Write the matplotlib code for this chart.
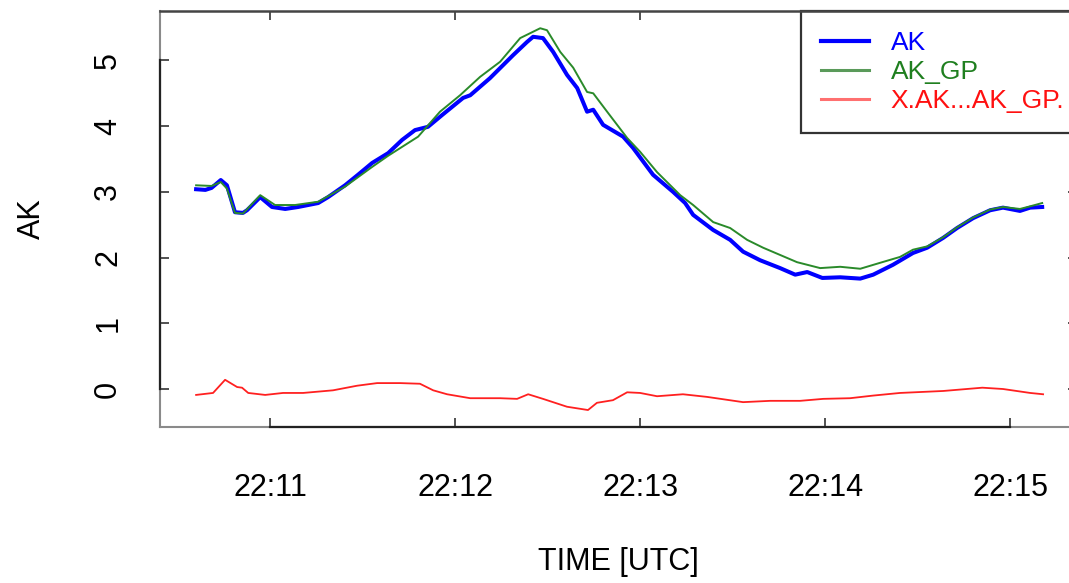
import matplotlib
matplotlib.use("Agg")
import matplotlib.pyplot as plt
from matplotlib.ticker import FuncFormatter

# time in seconds after 22:10:00 UTC
ak_t = [636, 639, 641, 644, 646, 648.6, 651.2, 652.5, 656.8, 660.6, 664.9, 669.1,
        675.6, 678.8, 684.3, 688.5, 693.1, 698.3, 702.8, 707.0, 711.2, 715.8,
        722.6, 724.9, 731.3, 738.8, 743.3, 745.3, 748.5, 751.8, 756.3, 759.6,
        762.8, 764.8, 768.0, 774.5, 777.7, 784.2, 790.7, 794.6, 797.2, 803.7,
        809.2, 813.4, 818.9, 825.4, 830.3, 834.2, 839.1, 844.9, 851.4, 855.6,
        862.0, 868.5, 873.1, 878.3, 882.8, 888.0, 893.5, 897.7, 903.2, 906.5, 910.4]
ak_v = [3.04, 3.03, 3.06, 3.18, 3.10, 2.69, 2.68, 2.72, 2.92, 2.77, 2.74, 2.77,
        2.83, 2.92, 3.10, 3.26, 3.44, 3.59, 3.79, 3.94, 3.99, 4.17,
        4.43, 4.47, 4.73, 5.08, 5.28, 5.36, 5.34, 5.13, 4.78, 4.58,
        4.22, 4.25, 4.02, 3.84, 3.67, 3.26, 3.00, 2.83, 2.65, 2.42,
        2.27, 2.09, 1.96, 1.84, 1.74, 1.78, 1.69, 1.70, 1.68, 1.74,
        1.89, 2.07, 2.15, 2.30, 2.45, 2.60, 2.72, 2.76, 2.71, 2.76, 2.77]

gp_t = [636, 641, 644, 646, 648.6, 651.2, 656.8, 661.6, 668.1, 675.6, 684.3,
        693.1, 698.3, 708.0, 715.1, 721.6, 728.1, 734.6, 741.1, 747.6, 749.8,
        754.1, 758.3, 762.8, 764.8, 769.3, 775.8, 780.0, 785.5, 793.0, 797.2,
        803.7, 809.2, 814.7, 819.9, 825.4, 830.9, 838.4, 844.9, 851.4, 857.8,
        864.3, 868.5, 873.1, 878.3, 882.8, 888.0, 893.5, 897.7, 903.2, 906.5, 910.4]
gp_v = [3.10, 3.09, 3.15, 3.05, 2.68, 2.67, 2.95, 2.80, 2.80, 2.85, 3.08,
        3.38, 3.55, 3.84, 4.22, 4.47, 4.75, 4.98, 5.34, 5.49, 5.46,
        5.13, 4.89, 4.52, 4.50, 4.22, 3.82, 3.61, 3.30, 2.95, 2.80,
        2.54, 2.45, 2.27, 2.15, 2.04, 1.93, 1.84, 1.86, 1.83, 1.92,
        2.01, 2.12, 2.17, 2.31, 2.46, 2.61, 2.73, 2.77, 2.74, 2.78, 2.83]

diff_t = [636, 641.5, 645.4, 649.3, 650.9, 652.9, 658.4, 664.2, 670.7, 680.4,
          688.2, 694.7, 702.2, 708.6, 712.9, 717.4, 724.9, 734.6, 740.1, 743.7,
          748.5, 756.3, 763.1, 766.0, 771.2, 775.8, 780.0, 785.5, 793.9, 801.7,
          813.4, 822.2, 831.9, 839.4, 848.1, 855.6, 864.3, 878.3, 891.0, 897.7,
          906.5, 910.7]
diff_v = [-0.09, -0.06, 0.14, 0.03, 0.02, -0.06, -0.09, -0.06, -0.06, -0.02,
          0.05, 0.09, 0.09, 0.08, -0.02, -0.08, -0.14, -0.14, -0.15, -0.08,
          -0.15, -0.27, -0.32, -0.21, -0.17, -0.05, -0.06, -0.11, -0.08, -0.12,
          -0.20, -0.18, -0.18, -0.15, -0.14, -0.10, -0.06, -0.03, 0.02, 0.00,
          -0.06, -0.08]

x_ticks = [660, 720, 780, 840, 900]
y_ticks = [0, 1, 2, 3, 4, 5]

plt.rcParams["font.family"] = ["Liberation Sans", "DejaVu Sans"]

fig = plt.figure(figsize=(10.69, 5.83), dpi=100)
ax = fig.add_axes([0.1497, 0.2676, 0.8578, 0.7136])

ax.plot(ak_t, ak_v, color="#0000ff", lw=2.9, label="AK", zorder=3)
ax.plot(gp_t, gp_v, color="#2a8a2a", lw=1.4, label="AK_GP", zorder=4)
ax.plot(diff_t, diff_v, color="#ff2020", lw=1.3, label="X.AK...AK_GP.", zorder=3)

ax.set_xlim(624.3, 921.7)
ax.set_ylim(-0.578, 5.753)

ax.set_xticks(x_ticks)
ax.xaxis.set_major_formatter(FuncFormatter(lambda s, p: "22:%02d" % (int(s) // 60)))
ax.set_yticks(y_ticks)
ax.set_yticklabels([str(v) for v in y_ticks], rotation=90, va="center")

ax.tick_params(direction="in", length=6.5, width=1.1, color="#222222",
               top=True, right=True, labelsize=22)
ax.tick_params(axis="x", pad=33)
ax.tick_params(axis="y", pad=26.5)

for side in ["left", "bottom", "right"]:
    ax.spines[side].set_color("#8a8a8a")
    ax.spines[side].set_linewidth(1.5)
ax.spines["top"].set_color("#444444")
ax.spines["top"].set_linewidth(1.8)

# R style axis lines from first to last tick
ax.plot([0, 0], [y_ticks[0], y_ticks[-1]], color="#222222", lw=1.6,
        transform=ax.get_yaxis_transform(), clip_on=False, zorder=5)
ax.plot([x_ticks[0], x_ticks[-1]], [0, 0], color="#222222", lw=1.6,
        transform=ax.get_xaxis_transform(), clip_on=False, zorder=5)

ax.set_xlabel("TIME [UTC]", fontsize=22, labelpad=32)
ax.set_ylabel("AK", fontsize=22, labelpad=33)

leg = ax.legend(loc="upper right", bbox_to_anchor=(1.0076, 1.0), borderaxespad=0,
                fontsize=19, labelspacing=0.2, handlelength=1.85, handletextpad=0.8,
                borderpad=0.75, fancybox=False, framealpha=1)
leg.get_frame().set_edgecolor("#333333")
leg.get_frame().set_linewidth(1.6)
leg.set_zorder(2)
for line, text in zip(leg.get_lines(), leg.get_texts()):
    line.set_linewidth(2.2)
    text.set_color(line.get_color())
leg.get_lines()[0].set_linewidth(3)
leg.get_lines()[1].set_color("#5a9a5a")
leg.get_lines()[2].set_color("#ff7070")
leg.get_texts()[1].set_color("#1f7f1f")
leg.get_texts()[2].set_color("#ff1010")

fig.savefig("out.png", dpi=100)
